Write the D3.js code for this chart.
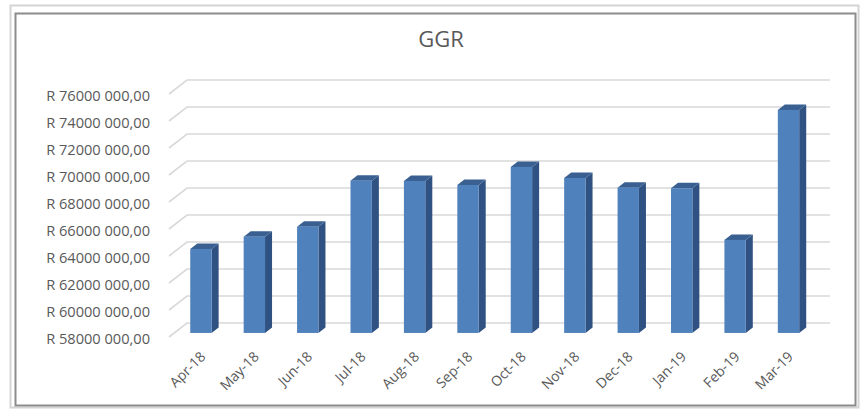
<!DOCTYPE html>
<html>
<head>
<meta charset="utf-8">
<script src="https://cdn.jsdelivr.net/npm/d3@7"></script>
<style>
  body { margin: 0; background: #fff; }
  text { font-family: "Open Sans", sans-serif; fill: #595959; }
</style>
</head>
<body>
<div id="chart"></div>
<script>
var months = ["Apr-18", "May-18", "Jun-18", "Jul-18", "Aug-18", "Sep-18",
              "Oct-18", "Nov-18", "Dec-18", "Jan-19", "Feb-19", "Mar-19"];
var ggr = [64220000, 65130000, 65870000, 69280000, 69260000, 68960000,
           70300000, 69480000, 68760000, 68720000, 64890000, 74520000];
var yTicks = [58000000, 60000000, 62000000, 64000000, 66000000, 68000000,
              70000000, 72000000, 74000000, 76000000];

var width = 863;
var height = 411;

// depth of the 3d floor (front edge -> back wall)
var depthX = 18, depthY = -14;
var barFront = 0.29, barBack = 0.68;

var svg = d3.select("#chart")
  .append("svg")
  .attr("width", width)
  .attr("height", height);

// frame
svg.append("rect")
  .attr("x", 10.5).attr("y", 5.5)
  .attr("width", 848).attr("height", 402)
  .attr("fill", "none").attr("stroke", "#d4d4d4").attr("stroke-width", 2);
svg.append("rect")
  .attr("x", 15.5).attr("y", 13.5)
  .attr("width", 840).attr("height", 392)
  .attr("fill", "#fff").attr("stroke", "#8c8c8c").attr("stroke-width", 2);

svg.append("text")
  .attr("x", 441).attr("y", 47)
  .attr("text-anchor", "middle")
  .attr("font-size", "22px")
  .text("GGR");

var x = d3.scaleBand()
  .domain(months)
  .range([169, 810])
  .paddingInner(0.6)
  .paddingOuter(0.3);

var y = d3.scaleLinear()
  .domain([58000000, 76000000])
  .range([337, 94]);

// gridlines: slanted side wall + back wall
var grid = svg.append("g")
  .attr("fill", "none")
  .attr("stroke", "#d9d9d9")
  .attr("stroke-width", 1.6);

grid.selectAll("polyline")
  .data(yTicks)
  .join("polyline")
  .attr("points", function (t) {
    var yy = y(t);
    return [[169, yy], [169 + depthX, yy + depthY], [830, yy + depthY]].join(" ");
  });

function fmt(v) {
  var th = Math.floor(v / 1000);
  var rest = String(v % 1000).padStart(3, "0");
  return "R " + th + " " + rest + ",00";
}

// y axis labels
var yAxis = svg.append("g")
  .attr("transform", "translate(150,2)")
  .call(d3.axisLeft(y).tickValues(yTicks).tickSize(0).tickPadding(0).tickFormat(fmt));
yAxis.select(".domain").remove();
yAxis.selectAll("text")
  .attr("font-size", "14.6px")
  .attr("font-family", "'Open Sans', sans-serif")
  .attr("fill", "#595959");

// bars
var fx = depthX * barFront, fy = depthY * barFront;
var bx = depthX * (barBack - barFront), by = depthY * (barBack - barFront);
var bw = x.bandwidth();

var bars = svg.append("g")
  .selectAll("g")
  .data(months.map(function (m, i) { return { month: m, value: ggr[i] }; }))
  .join("g");

bars.append("polygon")
  .attr("fill", "#2f5282")
  .attr("points", function (d) {
    var xr = x(d.month) + fx + bw, yt = y(d.value) + fy, yb = y(58000000) + fy;
    return [[xr, yt], [xr + bx, yt + by], [xr + bx, yb + by], [xr, yb]].join(" ");
  });

bars.append("polygon")
  .attr("fill", "#3a6092")
  .attr("points", function (d) {
    var xl = x(d.month) + fx, yt = y(d.value) + fy;
    return [[xl, yt], [xl + bw, yt], [xl + bw + bx, yt + by], [xl + bx, yt + by]].join(" ");
  });

bars.append("rect")
  .attr("fill", "#4f81bd")
  .attr("x", function (d) { return x(d.month) + fx; })
  .attr("y", function (d) { return y(d.value) + fy; })
  .attr("width", bw)
  .attr("height", function (d) { return y(58000000) - y(d.value); });

// x axis labels
var xAxis = svg.append("g")
  .attr("transform", "translate(" + (fx + 2) + ",354)")
  .call(d3.axisBottom(x).tickSize(0).tickPadding(0));
xAxis.select(".domain").remove();
xAxis.selectAll("text")
  .attr("font-size", "14px")
  .attr("font-family", "'Open Sans', sans-serif")
  .attr("fill", "#595959")
  .attr("text-anchor", "end")
  .attr("dy", "0.35em")
  .attr("transform", "rotate(-45)");
</script>
</body>
</html>
